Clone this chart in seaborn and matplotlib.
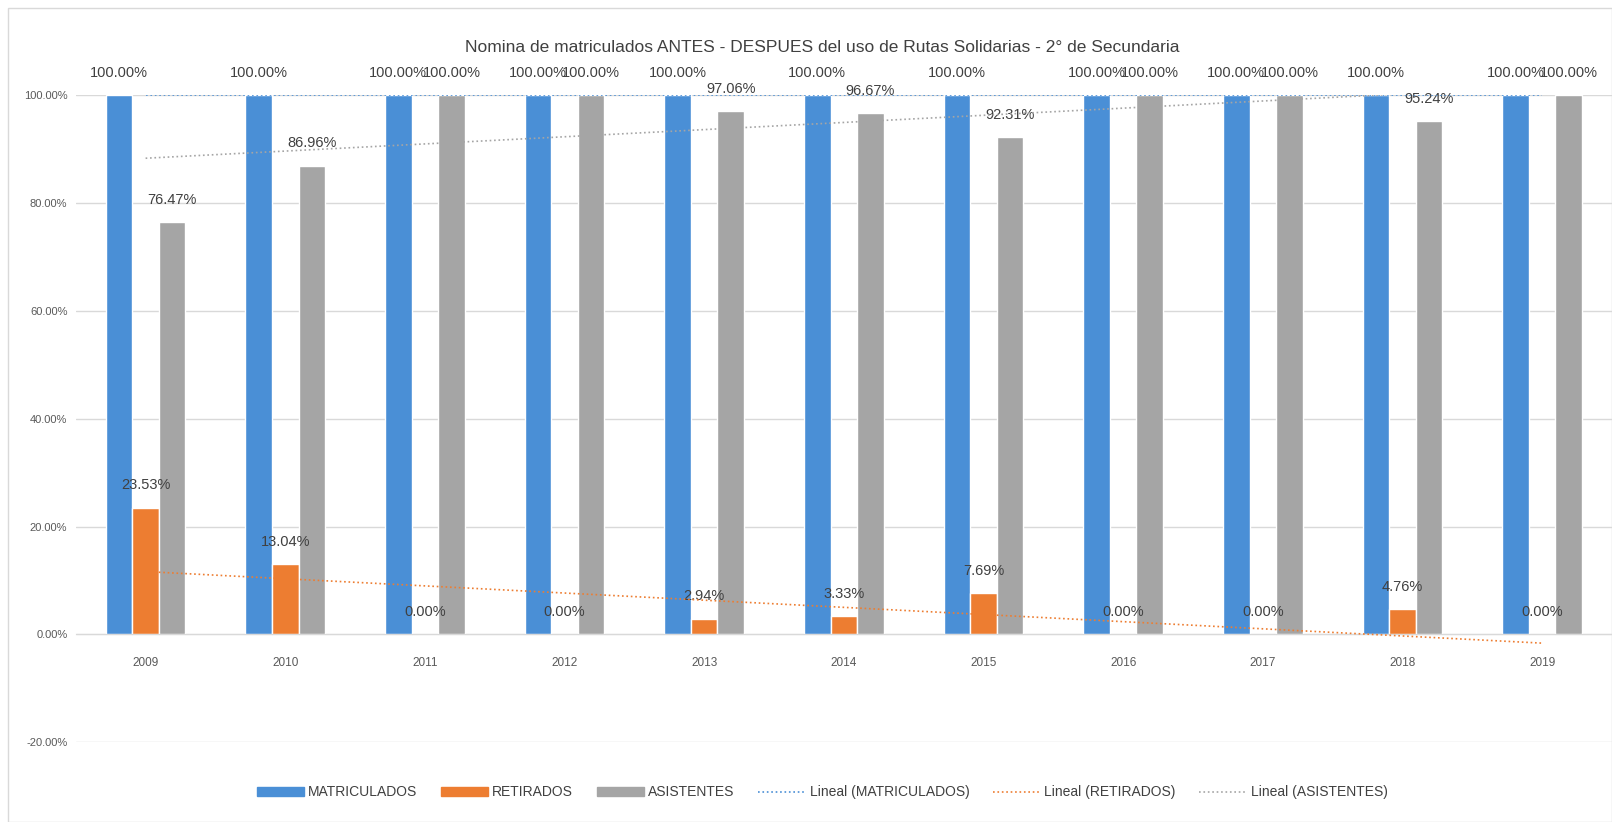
import numpy as np
import pandas as pd
import seaborn as sns
import matplotlib.pyplot as plt
from matplotlib.lines import Line2D
from matplotlib.patches import Patch, Rectangle

# datos
anios = ['2009', '2010', '2011', '2012', '2013', '2014', '2015', '2016', '2017', '2018', '2019']
matriculados = [100, 100, 100, 100, 100, 100, 100, 100, 100, 100, 100]
retirados = [23.53, 13.04, 0, 0, 2.94, 3.33, 7.69, 0, 0, 4.76, 0]
asistentes = [76.47, 86.96, 100, 100, 97.06, 96.67, 92.31, 100, 100, 95.24, 100]
series = ['MATRICULADOS', 'RETIRADOS', 'ASISTENTES']
colores = {'MATRICULADOS': '#4a8fd6', 'RETIRADOS': '#ed7d31', 'ASISTENTES': '#a5a5a5'}

df = pd.DataFrame({'Anio': anios * 3,
                   'Serie': np.repeat(series, len(anios)),
                   'Valor': matriculados + retirados + asistentes})

sns.set_style('white')
plt.rcParams['font.family'] = ['Liberation Sans', 'DejaVu Sans']

fig = plt.figure(figsize=(16.12, 8.22), dpi=100)
ax = fig.add_axes([0.047, 0.097, 0.953, 0.787])

sns.barplot(data=df, x='Anio', y='Valor', hue='Serie', hue_order=series,
            palette=colores, width=0.57, saturation=1, ax=ax, legend=False)

for cont in ax.containers:
    ax.bar_label(cont, fmt='{:.2f}%', padding=11, fontsize=10.5, color='#404040', clip_on=False)

# lineas de tendencia
x = np.arange(len(anios))
for nombre, vals in zip(series, [matriculados, retirados, asistentes]):
    m, b = np.polyfit(x, vals, 1)
    ax.plot(x, m * x + b, linestyle=':', linewidth=1.2, color=colores[nombre], zorder=3)

ax.set_ylim(-20, 100)
ax.set_xlim(-0.5, len(anios) - 0.5)
ax.set_yticks(np.arange(-20, 101, 20))
ax.set_yticklabels([f'{v:.2f}%' for v in np.arange(-20, 101, 20)], fontsize=8, color='#595959')
ax.yaxis.grid(True, color='#d9d9d9', linewidth=1)
ax.set_axisbelow(True)
for s in ['left', 'right', 'top']:
    ax.spines[s].set_visible(False)
ax.spines['bottom'].set_position(('data', 0))
ax.spines['bottom'].set_color('#d9d9d9')
ax.tick_params(axis='x', length=0, pad=16, labelsize=8.5, labelcolor='#595959')
ax.tick_params(axis='y', length=0, pad=6)
ax.set_xlabel('')
ax.set_ylabel('')

fig.text(0.51, 0.942, 'Nomina de matriculados ANTES - DESPUES del uso de Rutas Solidarias - 2° de Secundaria',
         ha='center', va='center', fontsize=12.5, color='#404040')

handles = [Patch(color=colores[s], label=s) for s in series]
handles += [Line2D([], [], linestyle=':', linewidth=1.2, color=colores[s], label=f'Lineal ({s})') for s in series]
fig.legend(handles=handles, loc='center', bbox_to_anchor=(0.51, 0.036), ncol=6, frameon=False,
           fontsize=10, handlelength=3.4, columnspacing=1.7, handletextpad=0.3,
           labelcolor='#404040')

fig.patches.append(Rectangle((0.005, 0.0), 0.995, 0.99, transform=fig.transFigure,
                             fill=False, edgecolor='#d9d9d9', linewidth=1))

fig.savefig('out.png', dpi=100)
